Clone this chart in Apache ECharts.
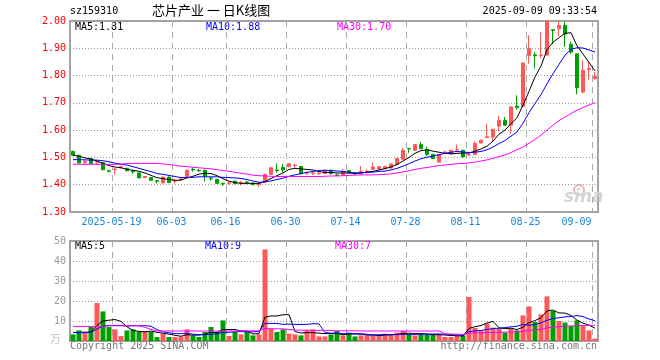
<!DOCTYPE html>
<html><head><meta charset="utf-8">
<script src="https://cdn.jsdelivr.net/npm/echarts@6/dist/echarts.min.js"></script>
<style>html,body{margin:0;padding:0;background:#fff}#c{width:660px;height:360px}</style>
</head><body><div id="c"></div>
<script>
const dates = ['2025-05-08','2025-05-09','2025-05-12','2025-05-13','2025-05-14','2025-05-15','2025-05-16','2025-05-19','2025-05-20','2025-05-21','2025-05-22','2025-05-23','2025-05-26','2025-05-27','2025-05-28','2025-05-29','2025-05-30','2025-06-03','2025-06-04','2025-06-05','2025-06-06','2025-06-09','2025-06-10','2025-06-11','2025-06-12','2025-06-13','2025-06-16','2025-06-17','2025-06-18','2025-06-19','2025-06-20','2025-06-23','2025-06-24','2025-06-25','2025-06-26','2025-06-27','2025-06-30','2025-07-01','2025-07-02','2025-07-03','2025-07-04','2025-07-07','2025-07-08','2025-07-09','2025-07-10','2025-07-11','2025-07-14','2025-07-15','2025-07-16','2025-07-17','2025-07-18','2025-07-21','2025-07-22','2025-07-23','2025-07-24','2025-07-25','2025-07-28','2025-07-29','2025-07-30','2025-07-31','2025-08-01','2025-08-04','2025-08-05','2025-08-06','2025-08-07','2025-08-08','2025-08-11','2025-08-12','2025-08-13','2025-08-14','2025-08-15','2025-08-18','2025-08-19','2025-08-20','2025-08-21','2025-08-22','2025-08-25','2025-08-26','2025-08-27','2025-08-28','2025-08-29','2025-09-01','2025-09-02','2025-09-03','2025-09-04','2025-09-05','2025-09-08','2025-09-09'];

const tickDates = ['2025-05-19','2025-06-03','2025-06-16','2025-06-30','2025-07-14','2025-07-28','2025-08-11','2025-08-25','2025-09-09'];

const openP = [1.522,1.508,1.482,1.496,1.482,1.481,1.451,1.455,1.464,1.460, 1.449,1.443,1.426,1.426,1.415,1.407,1.428,1.413,1.418,1.426, 1.456,1.453,1.453,1.424,1.419,1.405,1.405,1.413,1.406,1.410, 1.406,1.400,1.410,1.438,1.454,1.463,1.466,1.470,1.467,1.442, 1.441,1.440,1.441,1.453,1.436,1.436,1.452,1.442,1.441,1.445, 1.457,1.458,1.459,1.461,1.474,1.493,1.533,1.526,1.547,1.529, 1.511,1.483,1.518,1.514,1.527,1.526,1.509,1.511,1.553,1.573, 1.575,1.615,1.636,1.618,1.688,1.687,1.874,1.876,1.873,1.875, 1.968,1.972,1.984,1.915,1.880,1.740,1.822,1.789];
const closeP = [1.508,1.480,1.485,1.478,1.485,1.455,1.449,1.457,1.466,1.451, 1.447,1.425,1.430,1.416,1.413,1.428,1.408,1.415,1.421,1.453, 1.454,1.451,1.431,1.422,1.405,1.403,1.407,1.404,1.408,1.408, 1.400,1.405,1.438,1.462,1.452,1.454,1.477,1.472,1.440,1.444, 1.443,1.442,1.453,1.441,1.434,1.447,1.443,1.440,1.449,1.450, 1.465,1.466,1.467,1.476,1.496,1.526,1.531,1.547,1.532,1.511, 1.496,1.511,1.520,1.526,1.529,1.502,1.511,1.551,1.563,1.576, 1.603,1.636,1.618,1.685,1.683,1.846,1.899,1.873,1.875,2.000, 1.965,1.984,1.952,1.886,1.756,1.819,1.826,1.797];
const lowP = [1.505,1.478,1.476,1.476,1.474,1.453,1.445,1.437,1.460,1.449, 1.440,1.424,1.424,1.415,1.405,1.404,1.406,1.404,1.416,1.424, 1.448,1.447,1.412,1.414,1.403,1.396,1.400,1.402,1.398,1.402, 1.399,1.392,1.408,1.436,1.444,1.445,1.464,1.462,1.438,1.437, 1.436,1.436,1.439,1.437,1.432,1.433,1.441,1.436,1.439,1.440, 1.455,1.456,1.457,1.459,1.472,1.491,1.517,1.524,1.530,1.505, 1.494,1.481,1.514,1.512,1.522,1.500,1.506,1.509,1.551,1.570, 1.559,1.596,1.616,1.587,1.675,1.685,1.844,1.826,1.864,1.873, 1.915,1.945,1.905,1.880,1.731,1.735,1.785,1.785];
const highP = [1.525,1.510,1.490,1.498,1.492,1.482,1.455,1.462,1.470,1.462, 1.455,1.445,1.432,1.428,1.418,1.430,1.430,1.422,1.428,1.455, 1.462,1.458,1.455,1.428,1.420,1.408,1.412,1.415,1.414,1.414, 1.408,1.407,1.440,1.466,1.478,1.475,1.479,1.478,1.468,1.450, 1.448,1.446,1.455,1.455,1.440,1.458,1.454,1.446,1.469,1.456, 1.481,1.468,1.469,1.478,1.498,1.535,1.534,1.549,1.557,1.540, 1.513,1.513,1.525,1.528,1.547,1.528,1.513,1.559,1.565,1.624, 1.605,1.652,1.648,1.687,1.728,1.848,1.948,1.886,1.960,2.000, 1.970,2.000,1.996,1.925,1.882,1.856,1.852,1.813];

const ma5 = [1.508,1.504,1.498,1.494,1.487,1.478,1.470,1.465,1.462,1.456, 1.453,1.449,1.443,1.434,1.426,1.422,1.419,1.416,1.417,1.425, 1.431,1.439,1.442,1.441,1.433,1.422,1.413,1.408,1.405,1.405, 1.405,1.405,1.412,1.423,1.433,1.443,1.456,1.460,1.458,1.456, 1.454,1.448,1.445,1.445,1.443,1.443,1.443,1.441,1.443,1.446, 1.449,1.454,1.459,1.465,1.474,1.487,1.500,1.515,1.525,1.528, 1.523,1.519,1.515,1.513,1.515,1.516,1.516,1.523,1.531,1.541, 1.560,1.585,1.600,1.624,1.645,1.692,1.742,1.795,1.835,1.895, 1.922,1.939,1.955,1.957,1.909,1.879,1.848,1.817];
const ma10 = [1.492,1.492,1.491,1.490,1.490,1.488,1.484,1.479,1.475,1.472, 1.466,1.460,1.454,1.448,1.441,1.438,1.434,1.430,1.426,1.426, 1.427,1.429,1.429,1.429,1.429,1.427,1.426,1.425,1.423,1.419, 1.414,1.409,1.410,1.414,1.419,1.424,1.431,1.436,1.441,1.445, 1.449,1.452,1.453,1.452,1.450,1.449,1.446,1.443,1.444,1.445, 1.446,1.449,1.450,1.454,1.460,1.468,1.477,1.487,1.495,1.501, 1.505,1.510,1.515,1.519,1.522,1.520,1.518,1.519,1.522,1.528, 1.538,1.551,1.562,1.578,1.593,1.626,1.664,1.698,1.730,1.770, 1.807,1.841,1.875,1.896,1.902,1.901,1.894,1.886];
const ma30 = [1.475,1.475,1.475,1.475,1.475,1.475,1.475,1.475,1.475,1.478, 1.478,1.478,1.478,1.478,1.478,1.476,1.474,1.471,1.468,1.466, 1.464,1.462,1.460,1.458,1.455,1.452,1.449,1.446,1.442,1.439, 1.435,1.433,1.432,1.431,1.430,1.430,1.430,1.430,1.430,1.430, 1.430,1.430,1.431,1.432,1.432,1.433,1.434,1.435,1.436,1.436, 1.436,1.437,1.438,1.440,1.443,1.447,1.451,1.456,1.460,1.463, 1.467,1.470,1.472,1.475,1.477,1.478,1.480,1.483,1.487,1.491, 1.497,1.503,1.509,1.518,1.528,1.538,1.552,1.566,1.582,1.600, 1.618,1.635,1.648,1.661,1.673,1.683,1.692,1.701];

const volume = [3.3,5.3,4.2,7,19,14.8,7,5.8,2.5,5.3, 5.8,4.5,4.8,4.5,2,3.7,2,2,2.2,5.8, 2.8,2,4.5,7,4.5,10.3,2.5,4.5,3.3,4.5, 2.8,3.3,45.8,6.2,4.5,5.8,3.7,3.3,2.8,5.3, 5.8,2.3,2.3,3.3,5,2.8,4.2,2.3,2.8,2.8, 2.8,2.8,3.7,3.2,4.2,5,3.3,2.8,3.2,3.2, 3.3,3.3,2,2,2.5,2.8,22,6.5,5,8.7, 6.7,6.2,4.2,6.2,5.3,12.8,17.3,9.5,13.3,22.3, 15,10,9.2,7.5,10.3,7.5,5.3,1.2];
const volMa5 = [4.2,4.3,4.4,4.5,7.76,10.06,10.4,10.72,9.82,7.08, 5.28,4.78,4.58,4.98,4.32,3.9,3.4,2.84,2.38,3.14, 2.96,2.96,3.46,4.42,4.16,5.66,5.76,5.76,5.02,5.02, 3.52,3.68,11.94,12.52,12.52,13.12,13.2,4.7,4.02,4.18, 4.18,3.9,3.7,3.8,3.74,3.14,3.52,3.52,3.42,2.98, 2.98,2.7,2.98,3.06,3.34,3.78,3.88,3.7,3.7,3.5, 3.16,3.16,3.0,2.76,2.62,2.52,6.26,7.16,7.76,9.0, 9.78,6.62,6.16,6.4,5.72,6.94,9.16,10.22,11.64,15.04, 15.48,14.02,13.96,12.8,10.4,8.9,7.96,6.36];
const volMa10 = [4.2,4.2,4.2,4.3,6.0,7.5,7.8,7.8,7.8,7.42, 7.67,7.59,7.65,7.4,5.7,4.59,4.09,3.71,3.68,3.73, 3.43,3.18,3.15,3.4,3.65,4.31,4.36,4.61,4.72,4.59, 4.59,4.72,8.85,8.77,8.77,8.32,8.44,8.32,8.27,8.35, 8.65,8.55,4.2,3.91,3.96,3.66,3.71,3.61,3.61,3.36, 3.06,3.11,3.25,3.24,3.16,3.38,3.29,3.34,3.38,3.42, 3.47,3.52,3.35,3.23,3.06,2.84,4.71,5.08,5.26,5.81, 6.15,6.44,6.66,7.08,7.36,8.36,7.89,8.19,9.02,10.38, 11.21,11.59,12.09,12.22,12.72,12.19,10.99,10.16];
const volMa30 = [7.3,7.3,7.3,7.3,7.3,7.3,7.6,7.6,7.6,7.6, 7.6,7.6,6.8,5.8,5.0,5.0,5.0,5.0,5.0,5.0, 5.0,5.0,5.0,5.0,5.0,5.0,5.0,5.0,5.0,5.1, 5.1,5.1,6.3,6.1,6.1,6.1,5.7,5.5,5.4,5.4, 5.3,5.3,5.3,5.3,5.1,5.1,5.1,5.1,5.0,5.0, 5.0,5.0,5.0,5.0,5.0,5.0,5.0,5.0,5.0,5.0, 5.0,5.06,3.6,3.46,3.39,3.29,3.9,4.01,4.08,4.2, 4.23,4.36,4.42,4.52,4.53,4.86,5.3,5.54,5.89,6.54, 6.94,7.18,7.37,7.51,7.71,7.8,7.86,7.81];

const priceTicks = [1.3,1.4,1.5,1.6,1.7,1.8,1.9,2.0];
const volTicks = [0,10,20,30,40,50];

const UP = '#ff5858', DOWN = '#009f00';
const MONO = 'DejaVu Sans Mono';
const chart = echarts.init(document.getElementById('c'), null, {renderer:'canvas'});

const isTick = (i, v) => tickDates.indexOf(v) >= 0;
const vLine = {show:true, interval:isTick, lineStyle:{color:'#aaaaaa', width:1, type:[6,5]}};

const option = {
  animation:false,
  backgroundColor:'#ffffff',
  grid:[
    {left:70, top:21, width:528, height:191, show:true, borderColor:'#a3a3a3', borderWidth:2, backgroundColor:'transparent'},
    {left:70, top:241, width:528, height:100, show:true, borderColor:'#a3a3a3', borderWidth:2, backgroundColor:'transparent'}
  ],
  xAxis:[
    {type:'category', gridIndex:0, data:dates, boundaryGap:true,
     axisLine:{show:false}, axisTick:{show:false},
     axisLabel:{interval:isTick, margin:5, color:'#1b86d8', fontFamily:MONO, fontSize:10,
       formatter:(v)=>{
         const s = v===tickDates[0] ? v : v.slice(5);
         return v===tickDates[tickDates.length-1] ? '{e|'+s+'}' : '{d|'+s+'}';
       },
       rich:{d:{padding:[0,7,0,0], color:'#1b86d8', fontFamily:MONO, fontSize:10},
             e:{padding:[0,37,0,0], color:'#1b86d8', fontFamily:MONO, fontSize:10}}},
     splitLine:vLine},
    {type:'category', gridIndex:1, data:dates, boundaryGap:true,
     axisLine:{show:false}, axisTick:{show:false}, axisLabel:{show:false},
     splitLine:vLine}
  ],
  yAxis:[
    {type:'value', gridIndex:0, min:priceTicks[0], max:priceTicks[priceTicks.length-1], interval:0.1,
     axisLine:{show:false}, axisTick:{show:false},
     axisLabel:{color:'#ff0000', fontFamily:MONO, fontSize:10, margin:4, formatter:v=>v.toFixed(2)},
     splitLine:{show:true, lineStyle:{color:'#9a9a9a', width:1, type:[1,2]}}},
    {type:'value', gridIndex:1, min:volTicks[0], max:volTicks[volTicks.length-1], interval:10,
     axisLine:{show:false}, axisTick:{show:false},
     axisLabel:{color:'#9a9a9a', fontFamily:MONO, fontSize:10, margin:4, formatter:v=> v===0 ? '' : String(v)},
     splitLine:{show:true, lineStyle:{color:'#9a9a9a', width:1, type:[1,2]}}}
  ],
  series:[
    {type:'candlestick', xAxisIndex:0, yAxisIndex:0, barWidth:4,
     data:dates.map((d,i)=>[openP[i], closeP[i], lowP[i], highP[i]]),
     itemStyle:{color:UP, color0:DOWN, borderColor:UP, borderColor0:DOWN, borderWidth:1}},
    {type:'line', xAxisIndex:0, yAxisIndex:0, data:ma5, symbol:'none', lineStyle:{color:'#000000', width:1}},
    {type:'line', xAxisIndex:0, yAxisIndex:0, data:ma10, symbol:'none', lineStyle:{color:'#0000ff', width:1}},
    {type:'line', xAxisIndex:0, yAxisIndex:0, data:ma30, symbol:'none', lineStyle:{color:'#ff00ff', width:1}},
    {type:'bar', xAxisIndex:1, yAxisIndex:1, barWidth:5,
     data:volume.map((v,i)=>({value:v, itemStyle:{color: closeP[i] >= openP[i] ? UP : DOWN}}))},
    {type:'line', xAxisIndex:1, yAxisIndex:1, data:volMa5, symbol:'none', lineStyle:{color:'#000000', width:1}},
    {type:'line', xAxisIndex:1, yAxisIndex:1, data:volMa10, symbol:'none', lineStyle:{color:'#0000ff', width:1}},
    {type:'line', xAxisIndex:1, yAxisIndex:1, data:volMa30, symbol:'none', lineStyle:{color:'#ff00ff', width:1}}
  ],
  graphic:[
    {type:'text', left:70, top:6, style:{text:'sz159310', fill:'#000', fontFamily:MONO, fontSize:10}},
    {type:'text', left:152, top:4, style:{text:'芯片产业 一 日K线图', fill:'#000', fontFamily:'Noto Sans CJK SC', fontSize:13}},
    {type:'text', right:63, top:6, style:{text:'2025-09-09 09:33:54', fill:'#000', fontFamily:MONO, fontSize:10}},
    {type:'text', left:75, top:22, style:{text:'MA5:1.81', fill:'#000000', fontFamily:MONO, fontSize:10}},
    {type:'text', left:206, top:22, style:{text:'MA10:1.88', fill:'#0000ff', fontFamily:MONO, fontSize:10}},
    {type:'text', left:337, top:22, style:{text:'MA30:1.70', fill:'#ff00ff', fontFamily:MONO, fontSize:10}},
    {type:'text', left:75, top:241, style:{text:'MA5:5', fill:'#000000', fontFamily:MONO, fontSize:10}},
    {type:'text', left:205, top:241, style:{text:'MA10:9', fill:'#0000ff', fontFamily:MONO, fontSize:10}},
    {type:'text', left:335, top:241, style:{text:'MA30:7', fill:'#ff00ff', fontFamily:MONO, fontSize:10}},
    {type:'text', left:50, top:333, style:{text:'万', fill:'#c0c0c0', fontFamily:'Noto Sans CJK SC', fontSize:11}},
    {type:'text', left:70, top:341, style:{text:'Copyright 2025 SINA.COM', fill:'#777', fontFamily:MONO, fontSize:10}},
    {type:'text', right:63, top:341, style:{text:'http://finance.sina.com.cn', fill:'#777', fontFamily:MONO, fontSize:10}},
    {type:'circle', shape:{cx:579, cy:190, r:5}, style:{fill:'none', stroke:'#f3b6b6', lineWidth:2}},
    {type:'text', left:564, top:189, style:{text:'sina', fill:'#d4d4d4', fontFamily:'DejaVu Sans', fontSize:17, fontWeight:'bold', fontStyle:'italic'}}
  ]
};
chart.setOption(option);
</script>
</body></html>
